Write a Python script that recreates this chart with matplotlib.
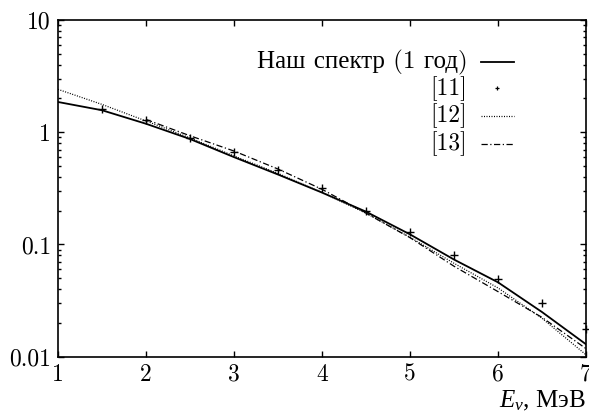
import matplotlib
matplotlib.use('Agg')
import matplotlib.pyplot as plt
from matplotlib.lines import Line2D
from matplotlib.ticker import FixedLocator, FixedFormatter, LogLocator, NullFormatter

plt.rcParams['font.family'] = ['cmr10', 'Liberation Serif']
plt.rcParams['mathtext.fontset'] = 'custom'
plt.rcParams['mathtext.rm'] = 'Liberation Serif'
plt.rcParams['mathtext.it'] = 'Liberation Serif:italic'
plt.rcParams['axes.unicode_minus'] = False

# our spectrum (1 year)
e_ours = [1.0, 1.5, 2.0, 2.5, 3.0, 3.5, 4.0, 4.5, 5.0, 5.5, 6.0, 6.5, 7.0]
f_ours = [1.86, 1.57, 1.19, 0.87, 0.60, 0.42, 0.29, 0.196, 0.123, 0.0734, 0.046, 0.025, 0.0129]

# [11] points
e_11 = [1.5, 2.0, 2.5, 3.0, 3.5, 4.0, 4.5, 5.0, 5.5, 6.0, 6.5, 7.0]
f_11 = [1.60, 1.28, 0.89, 0.67, 0.46, 0.32, 0.20, 0.13, 0.080, 0.049, 0.030, 0.0175]

# [12]
e_12 = [1.0, 1.5, 2.0, 2.5, 3.0, 3.5, 4.0, 4.5, 5.0, 5.5, 6.0, 6.5, 7.0]
f_12 = [2.41, 1.77, 1.26, 0.89, 0.615, 0.43, 0.29, 0.19, 0.116, 0.068, 0.041, 0.022, 0.0104]

# [13]
e_13 = [2.0, 2.5, 3.0, 3.5, 4.0, 4.5, 5.0, 5.5, 6.0, 6.5, 7.0]
f_13 = [1.30, 0.93, 0.68, 0.47, 0.31, 0.19, 0.115, 0.064, 0.038, 0.0224, 0.0118]

labels = ['Наш спектр (1 год)', '[11]', '[12]', '[13]']
yticks = [0.01, 0.1, 1, 10]
ytick_labels = ['0.01', '0.1', '1', '10']

fig = plt.figure(figsize=(5.89, 4.19), dpi=100)
ax = fig.add_axes([58/589, 1-356.7/419, (586-58)/589, (356.7-20)/419])

styles = [
    dict(color='black', lw=1.3),
    dict(ls='none', marker='+', color='black', ms=6, mew=1.0),
    dict(color='black', lw=0.9, ls=(0, (0.8, 1.2))),
    dict(color='black', lw=0.9, ls=(0, (5, 2, 1, 2))),
]
series = [(e_ours, f_ours), (e_11, f_11), (e_12, f_12), (e_13, f_13)]
for (xs, ys), st in zip(series, styles):
    ax.plot(xs, ys, clip_on=(st.get('marker') is None), **st)

ax.set_yscale('log')
ax.set_xlim(1, 7)
ax.set_ylim(0.01, 10)

ax.xaxis.set_major_locator(FixedLocator([1, 2, 3, 4, 5, 6, 7]))
ax.yaxis.set_major_locator(FixedLocator(yticks))
ax.yaxis.set_major_formatter(FixedFormatter(ytick_labels))
ax.yaxis.set_minor_locator(LogLocator(base=10, subs=range(2, 10)))
ax.yaxis.set_minor_formatter(NullFormatter())

ax.tick_params(which='both', direction='in', top=True, right=True, labelsize=17, width=1.0)
ax.tick_params(which='major', length=4.5, pad=5)
ax.tick_params(which='minor', length=2.5)
for s in ax.spines.values():
    s.set_linewidth(1.2)

ax.set_xlabel('$E_\\nu$, МэВ', loc='right', fontsize=18, labelpad=2,
              family='Liberation Serif')

# gnuplot-style key: right-aligned labels, samples to the right
row_y = [0.875, 0.797, 0.715, 0.632]
for i, (lab, st, yy) in enumerate(zip(labels, styles, row_y)):
    ax.text(0.775, yy, lab, transform=ax.transAxes, ha='right', va='center',
            fontsize=18 if i == 0 else 17)
    if st.get('marker'):
        ax.add_line(Line2D([0.831], [yy], transform=ax.transAxes,
                           **dict(st, ms=3.5, mew=0.9)))
    else:
        ax.add_line(Line2D([0.801, 0.864], [yy, yy], transform=ax.transAxes, **st))

fig.savefig('out.png', dpi=100)
